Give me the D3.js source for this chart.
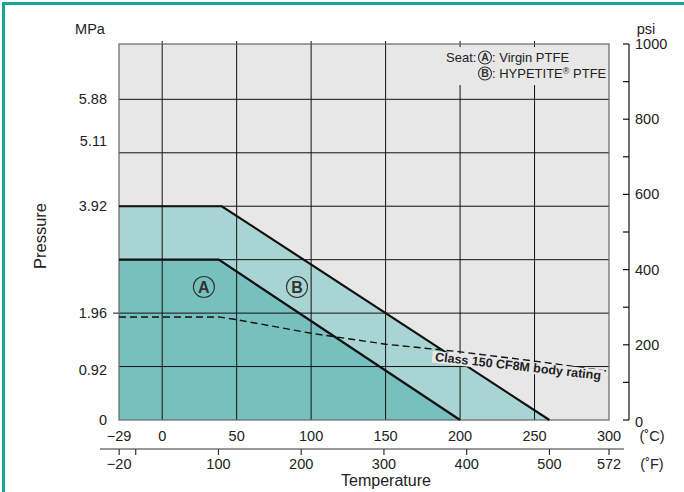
<!DOCTYPE html>
<html><head><meta charset="utf-8">
<script src="https://cdn.jsdelivr.net/npm/d3@7"></script>
<style>body{margin:0;background:#fff}svg{display:block;font-family:"Liberation Sans",Arial,Helvetica,sans-serif}</style>
</head><body><svg id="c" width="684" height="492"></svg>
<script>
// ---- data ----
const celsiusTicks = [-29, 0, 50, 100, 150, 200, 250, 300];
const celsiusLabels = ["\u221229", "0", "50", "100", "150", "200", "250", "300"];
const fahrenheitTicks = [-20, 0, 100, 200, 300, 400, 500, 572];
const fahrenheitLabels = ["\u221220", "", "100", "200", "300", "400", "500", "572"];
const mpaTicks = [0, 0.92, 1.96, 3.92, 5.11, 5.88];
const psiTicks = [0, 100, 200, 300, 400, 500, 600, 700, 800, 900, 1000];
const psiLabels = [0, 200, 400, 600, 800, 1000];
const gridMPa = [0.98, 1.96, 2.94, 3.92, 4.90, 5.88];
const gridC = [0, 50, 100, 150, 200, 250];
const seatA_T = [-29, 38, 200];
const seatA_P = [2.94, 2.94, 0];
const seatB_T = [-29, 40, 260];
const seatB_P = [3.92, 3.92, 0];
const bodyT = [-29, 38, 50, 100, 150, 200, 250, 300];
const bodyP = [1.89, 1.89, 1.84, 1.59, 1.39, 1.25, 1.08, 0.89];

const PSI_PER_MPA = 145.038;
const svg = d3.select("#c");
const L = 119, R = 609, T = 44, B = 420;
const x = d3.scaleLinear().domain([-29, 300]).range([L, R]);
const yPsi = d3.scaleLinear().domain([0, 1000]).range([B, T]);
const y = v => yPsi(v * PSI_PER_MPA);
const fToC = f => (f - 32) * 5 / 9;

// frame
svg.append("rect").attr("x", 2).attr("y", 2).attr("width", 700).attr("height", 3).attr("fill", "#19a59c");
svg.append("rect").attr("x", 2).attr("y", 2).attr("width", 3).attr("height", 500).attr("fill", "#19a59c");

// plot bg
svg.append("rect").attr("x", L).attr("y", T).attr("width", R - L).attr("height", B - T).attr("fill", "#e7e7e7");

const area = (ts, ps) => d3.area().x((d, i) => x(ts[i])).y0(B).y1((d, i) => y(ps[i]))(ts);
const line = (ts, ps) => d3.line().x((d, i) => x(ts[i])).y((d, i) => y(ps[i]))(ts);
svg.append("path").attr("d", area(seatB_T, seatB_P)).attr("fill", "#a8d5d3");
svg.append("path").attr("d", area(seatA_T, seatA_P)).attr("fill", "#77c0be");

// grid
const g = svg.append("g").attr("stroke", "#111").attr("stroke-width", 1);
gridC.forEach(c => g.append("line").attr("x1", x(c)).attr("x2", x(c)).attr("y1", T - 3).attr("y2", B));
gridMPa.forEach(m => g.append("line").attr("x1", L).attr("x2", R).attr("y1", y(m)).attr("y2", y(m)));
g.append("line").attr("x1", L - 6).attr("x2", L).attr("y1", y(1.96)).attr("y2", y(1.96));
svg.append("rect").attr("x", L).attr("y", T).attr("width", R - L).attr("height", B - T)
  .attr("fill", "none").attr("stroke", "#666").attr("stroke-width", 1.2);

// curves
svg.append("path").attr("d", line(seatB_T, seatB_P)).attr("fill", "none").attr("stroke", "#111").attr("stroke-width", 2.2);
svg.append("path").attr("d", line(seatA_T, seatA_P)).attr("fill", "none").attr("stroke", "#111").attr("stroke-width", 2.2);
svg.append("path").attr("d", line(bodyT, bodyP)).attr("fill", "none").attr("stroke", "#111")
  .attr("stroke-width", 1.4).attr("stroke-dasharray", "7,4");

// body rating label
const lbl = svg.append("g").attr("transform", `translate(${x(239)},${y(0.99)}) rotate(6.5)`);
const lt = lbl.append("text").attr("text-anchor", "middle").attr("dy", "0.35em")
  .attr("font-size", 12.5).attr("font-weight", "bold").attr("fill", "#222").text("Class 150 CF8M body rating");
const bb = lt.node().getBBox();
lbl.insert("rect", "text").attr("x", bb.x - 3).attr("y", bb.y + 1).attr("width", bb.width + 6).attr("height", bb.height - 2).attr("fill", "#e7e7e7");

// circled labels
function circled(parent, cx, cy, r, letter, fs) {
  parent.append("circle").attr("cx", cx).attr("cy", cy).attr("r", r).attr("fill", "none").attr("stroke", "#333").attr("stroke-width", 1.1);
  parent.append("text").attr("x", cx).attr("y", cy).attr("dy", "0.36em").attr("text-anchor", "middle")
    .attr("font-size", fs).attr("font-weight", "bold").attr("fill", "#333").text(letter);
}
circled(svg, x(28), y(2.44), 10.5, "A", 16);
circled(svg, x(90.5), y(2.44), 10.5, "B", 16);

// legend
svg.append("rect").attr("x", 440).attr("y", T + 3).attr("width", R - 441).attr("height", 38).attr("fill", "#e7e7e7");
const lg = svg.append("g").attr("font-size", 13).attr("fill", "#222");
lg.append("text").attr("x", 446).attr("y", 62).text("Seat:");
circled(lg, 485, 57.5, 6.5, "A", 10.5);
lg.append("text").attr("x", 492).attr("y", 62).text(": Virgin PTFE");
circled(lg, 485, 73.5, 6.5, "B", 10.5);
const t2 = lg.append("text").attr("x", 492).attr("y", 78);
t2.append("tspan").text(": HYPETITE");
t2.append("tspan").attr("font-size", 9).attr("dy", -4).text("\u00AE");
t2.append("tspan").attr("dy", 4).text(" PTFE");

// left axis labels
const tx = svg.append("g").attr("font-size", 14.5).attr("fill", "#222");
mpaTicks.forEach(m => tx.append("text").attr("x", 107).attr("y", y(m)).attr("dy", "0.35em").attr("text-anchor", "end").text(m === 0 ? "0" : m.toFixed(2)));
tx.append("text").attr("x", 90).attr("y", 34).attr("text-anchor", "middle").text("MPa");
tx.append("text").attr("transform", "translate(46,236) rotate(-90)").attr("text-anchor", "middle").attr("font-size", 16.5).text("Pressure");

// right axis
const RA = 629;
svg.append("line").attr("x1", RA).attr("x2", RA).attr("y1", T).attr("y2", B).attr("stroke", "#111").attr("stroke-width", 1.2);
psiTicks.forEach(p => svg.append("line").attr("x1", RA - 6).attr("x2", RA).attr("y1", yPsi(p)).attr("y2", yPsi(p)).attr("stroke", "#111").attr("stroke-width", 1.2));
psiLabels.forEach(p => tx.append("text").attr("x", 635).attr("y", yPsi(p)).attr("dy", p === 0 ? "0.45em" : "0.35em").text(p));
tx.append("text").attr("x", 646).attr("y", 34).attr("text-anchor", "middle").text("psi");

// bottom C labels
celsiusTicks.forEach((c, i) => tx.append("text").attr("x", x(c)).attr("y", 441).attr("text-anchor", "middle").text(celsiusLabels[i]));
tx.append("text").attr("x", 652).attr("y", 441).attr("text-anchor", "middle").text("(\u02DAC)");

// F axis
const FY = 449;
svg.append("line").attr("x1", 100).attr("x2", 624).attr("y1", FY).attr("y2", FY).attr("stroke", "#333").attr("stroke-width", 1.2);
fahrenheitTicks.forEach((f, i) => {
  svg.append("line").attr("x1", x(fToC(f))).attr("x2", x(fToC(f))).attr("y1", FY).attr("y2", FY + 6).attr("stroke", "#333").attr("stroke-width", 1.2);
  if (fahrenheitLabels[i]) tx.append("text").attr("x", x(fToC(f))).attr("y", 469).attr("text-anchor", "middle").text(fahrenheitLabels[i]);
});
tx.append("text").attr("x", 652).attr("y", 469).attr("text-anchor", "middle").text("(\u02DAF)");
tx.append("text").attr("x", 386).attr("y", 486).attr("text-anchor", "middle").attr("font-size", 16).text("Temperature");
</script></body></html>
